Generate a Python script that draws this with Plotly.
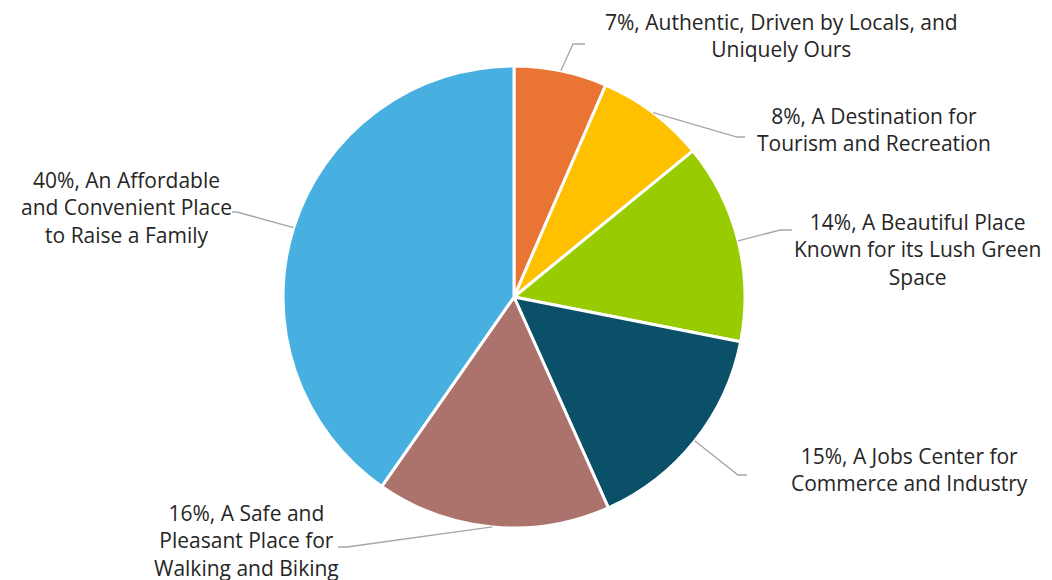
import math
import plotly.graph_objects as go

# ---- data ----
categories = [
    "Authentic, Driven by Locals, and Uniquely Ours",
    "A Destination for Tourism and Recreation",
    "A Beautiful Place Known for its Lush Green Space",
    "A Jobs Center for Commerce and Industry",
    "A Safe and Pleasant Place for Walking and Biking",
    "An Affordable and Convenient Place to Raise a Family",
]
values = [6.5, 7.6, 14.0, 15.2, 16.4, 40.3]
pct_labels = ["7%", "8%", "14%", "15%", "16%", "40%"]
label_lines = [
    "7%, Authentic, Driven by Locals, and<br>Uniquely Ours",
    "8%, A Destination for<br>Tourism and Recreation",
    "14%, A Beautiful Place<br>Known for its Lush Green<br>Space",
    "15%, A Jobs Center for<br>Commerce and Industry",
    "16%, A Safe and<br>Pleasant Place for<br>Walking and Biking",
    "40%, An Affordable<br>and Convenient Place<br>to Raise a Family",
]
colors = ["#EA7434", "#FFC000", "#99CC00", "#0A5069", "#AC726C", "#47B0E0"]

# ---- layout constants (pixels in the screenshot) ----
W, H = 1052, 580
OFF = 8  # page body margin
CX, CY, R = 514, 297, 231
elbows = [(573, 44), (737, 137), (780, 230), (738, 475), (347, 547), (237, 212)]
ends = [(585, 44), (745, 137), (792, 230), (747, 475), (338, 547), (232, 212)]
label_pos = [(781, 35), (874, 129), (917, 249), (909, 469), (246, 540), (126, 207)]

def px(x):
    return (x - OFF) / W

def py(y):
    return 1 - (y - OFF) / H

fig = go.Figure(go.Pie(
    labels=categories,
    values=values,
    sort=False,
    direction="clockwise",
    rotation=0,
    textinfo="none",
    hoverinfo="label+percent",
    marker=dict(colors=colors, line=dict(color="white", width=3)),
    domain=dict(x=[px(CX - R), px(CX + R)], y=[py(CY + R), py(CY - R)]),
    showlegend=False,
))

total = sum(values)
cum = 0
shapes = []
annotations = []
for i, v in enumerate(values):
    mid = (cum + v / 2) / total * 2 * math.pi
    cum += v
    sx = CX + R * math.sin(mid)
    sy = CY - R * math.cos(mid)
    ex, ey = elbows[i]
    tx, ty = ends[i]
    shapes.append(dict(type="path", xref="paper", yref="paper",
                       path=f"M {px(sx)},{py(sy)} L {px(ex)},{py(ey)} L {px(tx)},{py(ty)}",
                       line=dict(color="#A6A6A6", width=1.3)))
    lx, ly = label_pos[i]
    annotations.append(dict(x=px(lx), y=py(ly), xref="paper", yref="paper",
                            text=label_lines[i], showarrow=False, align="center",
                            xanchor="center", yanchor="middle",
                            font=dict(family="Open Sans", size=21, color="#262626")))

fig.update_layout(
    width=W, height=H,
    margin=dict(l=0, r=0, t=0, b=0),
    paper_bgcolor="white", plot_bgcolor="white",
    shapes=shapes, annotations=annotations,
)
fig.write_html("out.html")
